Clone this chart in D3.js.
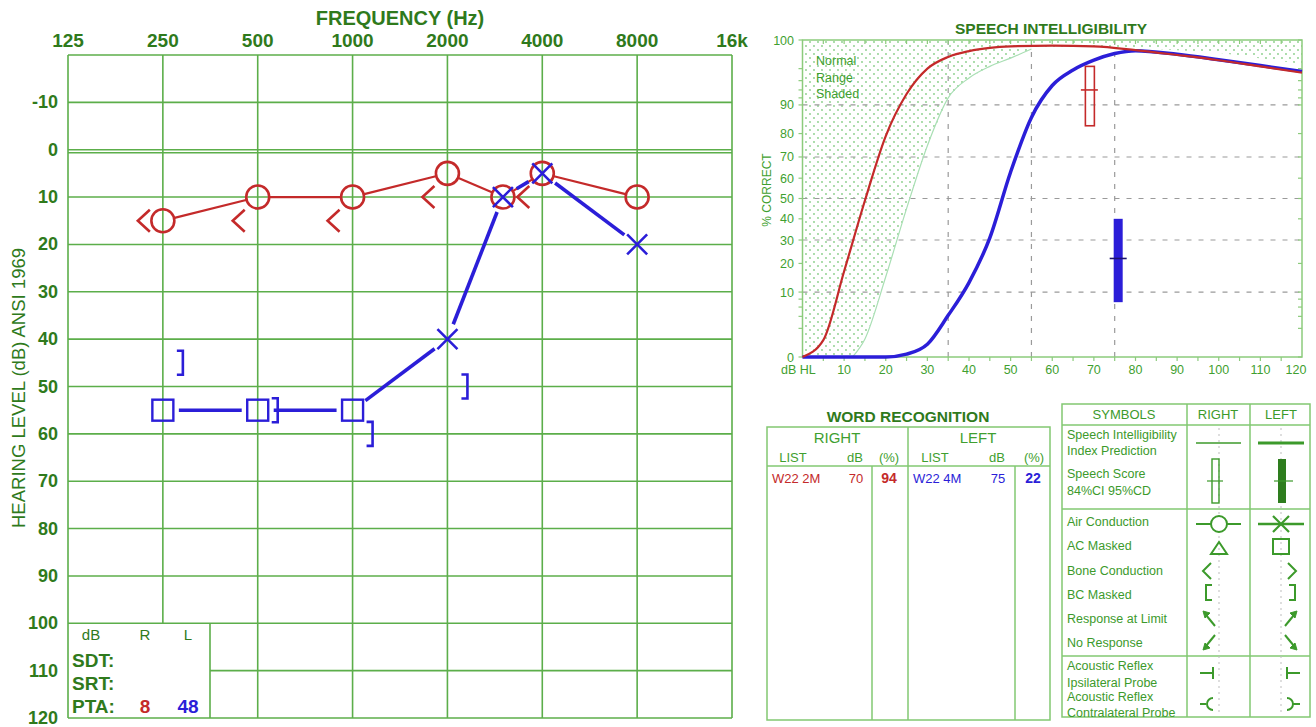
<!DOCTYPE html>
<html lang="en">
<head>
<meta charset="UTF-8">
<title>Audiogram</title>
<script src="https://d3js.org/d3.v7.min.js"></script>
<style>
  body { margin: 0; background: #fff; }
  svg text { font-family: "Liberation Sans", Arial, sans-serif; }
</style>
</head>
<body>
<svg id="chart" width="1316" height="727"></svg>
<script>
// ---------- data ----------
const freqs = [125, 250, 500, 1000, 2000, 4000, 8000, 16000];
const freqLabels = ["125", "250", "500", "1000", "2000", "4000", "8000", "16k"];
const dbTicks = [-10, 0, 10, 20, 30, 40, 50, 60, 70, 80, 90, 100, 110, 120];

// right ear air conduction (circles)
const rightAC = [[250, 15], [500, 10], [1000, 10], [2000, 5], [3000, 10], [4000, 5], [8000, 10]];
// right ear bone conduction (<)
const rightBC = [[250, 15], [500, 15], [1000, 15], [2000, 10], [4000, 10]];
// left ear masked air conduction (squares)
const leftACMasked = [[250, 55], [500, 55], [1000, 55]];
// left ear air conduction (X)
const leftAC = [[2000, 40], [3000, 10], [4000, 5], [8000, 20]];
// left ear masked bone conduction (])
const leftBCMasked = [[250, 45], [500, 55], [1000, 60], [2000, 50]];

const ptaRight = "8", ptaLeft = "48";

// speech intelligibility curves: [dB HL, % correct]
const rightCurve = [[0, 0], [5, 0.7], [10, 17], [15, 49], [20, 79], [25, 93], [30, 98], [35, 99.3], [40, 99.7],
  [45, 99.85], [50, 99.9], [60, 99.92], [70, 99.9], [80, 99.75], [90, 99.45], [100, 99.0], [110, 98.3], [120, 97.4]];
const leftCurve = [[0, 0], [20, 0], [25, 0.02], [30, 0.4], [35, 4.2], [40, 13], [45, 31], [50, 63], [55, 86],
  [60, 95], [65, 97.8], [70, 99], [75, 99.55], [80, 99.72], [90, 99.5], [100, 99.05], [110, 98.4], [120, 97.6]];
const normalCurve = [[12, 0], [15, 0.8], [20, 15], [25, 45], [30, 75], [35, 92], [40, 96.5], [45, 98.3], [50, 99.2], [55, 99.8]];
const normalTop = [[55, 99.8], [80, 99.85], [100, 99.6], [120, 98.6]];
const siiXTicks = [10, 20, 30, 40, 50, 60, 70, 80, 90, 100, 110, 120];
const siiYTicks = [0, 10, 20, 30, 40, 50, 60, 70, 80, 90, 100];
const siiMinor = [2, 4, 6, 8, 92, 94, 96, 98];
const siiGridY = [10, 30, 50, 70, 90];
const siiGridX = [35, 55, 75];

// speech scores: dB, score, CI low, CI high
const scoreRight = { db: 70, pct: 94, lo: 83, hi: 98.3 };
const scoreLeft = { db: 75, pct: 22, lo: 7.2, hi: 40 };

// word recognition
const wrRight = { list: "W22 2M", db: "70", pct: "94" };
const wrLeft = { list: "W22 4M", db: "75", pct: "22" };

const symbolRows = [
  ["Speech Intelligibility", "Index Prediction"], ["Speech Score", "84%CI 95%CD"],
  ["Air Conduction"], ["AC Masked"], ["Bone Conduction"], ["BC Masked"],
  ["Response at Limit"], ["No Response"],
  ["Acoustic Reflex", "Ipsilateral Probe"], ["Acoustic Reflex", "Contralateral Probe"]
];

// ---------- colours ----------
const darkGreen = "#2f7a1c", grid = "#5cae4a", lightGreen = "#3f9f30", tableLine = "#82c872";
const red = "#c42a2a", blue = "#2b1ed8";

const svg = d3.select("#chart");

// ================= AUDIOGRAM =================
const x = d3.scaleLog().base(2).domain([125, 16000]).range([68, 732]);
const y = d3.scaleLinear().domain([-20, 120]).range([55, 718]);

const ag = svg.append("g");

// horizontal grid
dbTicks.concat([-20]).forEach(function (d) {
  let x0 = 68;
  if (d === 110) x0 = 210;
  ag.append("line").attr("x1", x0).attr("x2", 732).attr("y1", y(d)).attr("y2", y(d))
    .attr("stroke", grid).attr("stroke-width", 1.6);
});
ag.append("line").attr("x1", 68).attr("x2", 732).attr("y1", y(0) + 3).attr("y2", y(0) + 3)
  .attr("stroke", grid).attr("stroke-width", 1.6);

// vertical grid
freqs.forEach(function (f) {
  const y1 = (f === 250) ? y(100) : y(120);
  ag.append("line").attr("x1", x(f)).attr("x2", x(f)).attr("y1", y(-20)).attr("y2", y1)
    .attr("stroke", grid).attr("stroke-width", 1.6);
});
// PTA box divider
ag.append("line").attr("x1", 210).attr("x2", 210).attr("y1", y(100)).attr("y2", y(120))
  .attr("stroke", grid).attr("stroke-width", 1.6);

// frequency labels
ag.selectAll(".flab").data(freqs).enter().append("text")
  .attr("x", d => x(d)).attr("y", 47).attr("text-anchor", "middle")
  .attr("font-size", 19).attr("font-weight", "bold").attr("fill", darkGreen)
  .text((d, i) => freqLabels[i]);
ag.append("text").attr("x", 400).attr("y", 25).attr("text-anchor", "middle")
  .attr("font-size", 20).attr("font-weight", "bold").attr("fill", darkGreen).text("FREQUENCY (Hz)");

// dB labels
ag.selectAll(".dlab").data(dbTicks).enter().append("text")
  .attr("x", 58).attr("y", d => y(d) + 6).attr("text-anchor", "end")
  .attr("font-size", 18).attr("font-weight", "bold").attr("fill", darkGreen).text(d => d);
ag.append("text").attr("transform", "translate(25,388) rotate(-90)").attr("text-anchor", "middle")
  .attr("font-size", 18.5).attr("fill", darkGreen).text("HEARING LEVEL (dB) ANSI 1969");

// connecting segments with gaps near markers
function segs(points, gap) {
  const out = [];
  for (let i = 0; i < points.length - 1; i++) {
    const ax = x(points[i][0]), ay = y(points[i][1]);
    const bx = x(points[i + 1][0]), by = y(points[i + 1][1]);
    const len = Math.hypot(bx - ax, by - ay);
    const ux = (bx - ax) / len, uy = (by - ay) / len;
    out.push([ax + ux * gap, ay + uy * gap, bx - ux * gap, by - uy * gap]);
  }
  return out;
}
function drawSegs(points, gap, color, width) {
  ag.append("g").selectAll("line").data(segs(points, gap)).enter().append("line")
    .attr("x1", d => d[0]).attr("y1", d => d[1]).attr("x2", d => d[2]).attr("y2", d => d[3])
    .attr("stroke", color).attr("stroke-width", width);
}
drawSegs(rightAC, 12, red, 2.2);
drawSegs(leftACMasked.concat(leftAC), 16, blue, 3.6);

// right AC circles
ag.append("g").selectAll("circle").data(rightAC).enter().append("circle")
  .attr("cx", d => x(d[0])).attr("cy", d => y(d[1])).attr("r", 11.5)
  .attr("fill", "none").attr("stroke", red).attr("stroke-width", 2.6);

// right BC <
ag.append("g").selectAll("path").data(rightBC).enter().append("path")
  .attr("d", d => {
    const cx = x(d[0]), cy = y(d[1]);
    return `M${cx - 13},${cy - 11}L${cx - 25},${cy}L${cx - 13},${cy + 11}`;
  })
  .attr("fill", "none").attr("stroke", red).attr("stroke-width", 2.6);

// left masked AC squares
ag.append("g").selectAll("rect").data(leftACMasked).enter().append("rect")
  .attr("x", d => x(d[0]) - 10.5).attr("y", d => y(d[1]) - 10.5).attr("width", 21).attr("height", 21)
  .attr("fill", "none").attr("stroke", blue).attr("stroke-width", 2.4);

// left AC X
ag.append("g").selectAll("path").data(leftAC).enter().append("path")
  .attr("d", d => {
    const cx = x(d[0]), cy = y(d[1]), s = 10;
    return `M${cx - s},${cy - s}L${cx + s},${cy + s}M${cx - s},${cy + s}L${cx + s},${cy - s}`;
  })
  .attr("fill", "none").attr("stroke", blue).attr("stroke-width", 2.6);

// left masked BC ]
ag.append("g").selectAll("path").data(leftBCMasked).enter().append("path")
  .attr("d", d => {
    const cx = x(d[0]), cy = y(d[1]);
    return `M${cx + 14},${cy - 12}L${cx + 20},${cy - 12}L${cx + 20},${cy + 12}L${cx + 14},${cy + 12}`;
  })
  .attr("fill", "none").attr("stroke", blue).attr("stroke-width", 2.6);

// PTA table text
ag.append("text").attr("x", 91).attr("y", 640).attr("text-anchor", "middle").attr("font-size", 15)
  .attr("fill", darkGreen).text("dB");
ag.append("text").attr("x", 145).attr("y", 640).attr("text-anchor", "middle").attr("font-size", 15)
  .attr("fill", darkGreen).text("R");
ag.append("text").attr("x", 188).attr("y", 640).attr("text-anchor", "middle").attr("font-size", 15)
  .attr("fill", darkGreen).text("L");
[["SDT:", 667], ["SRT:", 690], ["PTA:", 713]].forEach(function (r) {
  ag.append("text").attr("x", 72).attr("y", r[1]).attr("font-size", 19).attr("font-weight", "bold")
    .attr("fill", darkGreen).text(r[0]);
});
ag.append("text").attr("x", 145).attr("y", 713).attr("text-anchor", "middle").attr("font-size", 19)
  .attr("font-weight", "bold").attr("fill", red).text(ptaRight);
ag.append("text").attr("x", 188).attr("y", 713).attr("text-anchor", "middle").attr("font-size", 19)
  .attr("font-weight", "bold").attr("fill", blue).text(ptaLeft);

// ================= SPEECH INTELLIGIBILITY =================
const sx = d3.scaleLinear().domain([0, 120]).range([802.5, 1302]);
const sArc = d3.scaleLinear().domain([0, Math.PI / 2]).range([357, 40]);
const sy = p => sArc(Math.asin(Math.sqrt(p / 100)));

const sg = svg.append("g");
const defs = svg.append("defs");
const pat = defs.append("pattern").attr("id", "dots").attr("patternUnits", "userSpaceOnUse")
  .attr("width", 8).attr("height", 8);
pat.append("circle").attr("cx", 2).attr("cy", 2).attr("r", 0.9).attr("fill", "#86cc86");
pat.append("circle").attr("cx", 6).attr("cy", 6).attr("r", 0.9).attr("fill", "#86cc86");

// normal range region
const regionPts = [[0, 0], [0, 100], [120, 100]].concat(normalTop.slice().reverse()).concat(normalCurve.slice().reverse());
sg.append("path")
  .attr("d", d3.line().x(d => sx(d[0])).y(d => sy(d[1]))(regionPts) + "Z")
  .attr("fill", "url(#dots)").attr("stroke", "none");

// dashed grid
sg.selectAll(".gy").data(siiGridY).enter().append("line")
  .attr("x1", sx(0)).attr("x2", sx(120)).attr("y1", d => sy(d)).attr("y2", d => sy(d))
  .attr("stroke", "#9a9a9a").attr("stroke-width", 1.2).attr("stroke-dasharray", "5,7");
sg.selectAll(".gx").data(siiGridX).enter().append("line")
  .attr("x1", d => sx(d)).attr("x2", d => sx(d)).attr("y1", sy(0)).attr("y2", sy(100))
  .attr("stroke", "#9a9a9a").attr("stroke-width", 1.2).attr("stroke-dasharray", "5,7");

// frame
sg.append("rect").attr("x", sx(0)).attr("y", sy(100)).attr("width", sx(120) - sx(0)).attr("height", sy(0) - sy(100))
  .attr("fill", "none").attr("stroke", "#8ccb7c").attr("stroke-width", 1.5);

// ticks
const tick5 = d3.range(5, 120, 5);
sg.selectAll(".tt").data(tick5).enter().append("line")
  .attr("x1", d => sx(d)).attr("x2", d => sx(d)).attr("y1", sy(100)).attr("y2", sy(100) + 4)
  .attr("stroke", "#8ccb7c").attr("stroke-width", 1.2);
sg.selectAll(".tb").data(tick5).enter().append("line")
  .attr("x1", d => sx(d)).attr("x2", d => sx(d)).attr("y1", sy(0)).attr("y2", sy(0) + 4)
  .attr("stroke", "#8ccb7c").attr("stroke-width", 1.2);
sg.selectAll(".tl").data(siiYTicks.concat(siiMinor)).enter().append("line")
  .attr("x1", sx(0) - 4).attr("x2", sx(0)).attr("y1", d => sy(d)).attr("y2", d => sy(d))
  .attr("stroke", "#8ccb7c").attr("stroke-width", 1.2);
sg.selectAll(".tr").data(siiYTicks.concat(siiMinor)).enter().append("line")
  .attr("x1", sx(120) - 4).attr("x2", sx(120)).attr("y1", d => sy(d)).attr("y2", d => sy(d))
  .attr("stroke", "#8ccb7c").attr("stroke-width", 1.2);

// normal curve
sg.append("path").attr("d", d3.line().x(d => sx(d[0])).y(d => sy(d[1])).curve(d3.curveMonotoneX)(normalCurve))
  .attr("fill", "none").attr("stroke", "#a9dfb4").attr("stroke-width", 1.2);
// ear curves
sg.append("path").attr("d", d3.line().x(d => sx(d[0])).y(d => sy(d[1])).curve(d3.curveMonotoneX)(leftCurve))
  .attr("fill", "none").attr("stroke", blue).attr("stroke-width", 3.5);
sg.append("path").attr("d", d3.line().x(d => sx(d[0])).y(d => sy(d[1])).curve(d3.curveMonotoneX)(rightCurve))
  .attr("fill", "none").attr("stroke", red).attr("stroke-width", 2.2);

// speech scores
sg.append("rect").attr("x", sx(scoreRight.db) - 8.5).attr("y", sy(scoreRight.hi)).attr("width", 9)
  .attr("height", sy(scoreRight.lo) - sy(scoreRight.hi))
  .attr("fill", "none").attr("stroke", red).attr("stroke-width", 1.6);
sg.append("line").attr("x1", sx(scoreRight.db) - 13).attr("x2", sx(scoreRight.db) + 4)
  .attr("y1", sy(scoreRight.pct)).attr("y2", sy(scoreRight.pct)).attr("stroke", red).attr("stroke-width", 1.6);
sg.append("rect").attr("x", sx(scoreLeft.db) - 1).attr("y", sy(scoreLeft.hi)).attr("width", 9)
  .attr("height", sy(scoreLeft.lo) - sy(scoreLeft.hi)).attr("fill", blue);
sg.append("line").attr("x1", sx(scoreLeft.db) - 5).attr("x2", sx(scoreLeft.db) + 12)
  .attr("y1", sy(scoreLeft.pct)).attr("y2", sy(scoreLeft.pct)).attr("stroke", "#1a1070").attr("stroke-width", 1.6);

// labels
sg.selectAll(".sxl").data(siiXTicks).enter().append("text")
  .attr("x", d => d === 120 ? sx(d) - 6 : sx(d)).attr("y", 374).attr("text-anchor", "middle")
  .attr("font-size", 12.5).attr("fill", lightGreen).text(d => d);
sg.append("text").attr("x", 781).attr("y", 374).attr("font-size", 12.5).attr("fill", lightGreen).text("dB HL");
sg.selectAll(".syl").data(siiYTicks).enter().append("text")
  .attr("x", 794).attr("y", d => sy(d) + 4.5).attr("text-anchor", "end")
  .attr("font-size", 12.5).attr("fill", lightGreen).text(d => d);
sg.append("text").attr("transform", "translate(771,190) rotate(-90)").attr("text-anchor", "middle")
  .attr("font-size", 12).attr("fill", lightGreen).text("% CORRECT");
sg.append("text").attr("x", 1051).attr("y", 34).attr("text-anchor", "middle").attr("font-size", 15.5)
  .attr("font-weight", "bold").attr("fill", darkGreen).text("SPEECH INTELLIGIBILITY");
[["Normal", 65], ["Range", 82], ["Shaded", 98]].forEach(function (t) {
  sg.append("text").attr("x", 816).attr("y", t[1]).attr("font-size", 12.5).attr("fill", lightGreen).text(t[0]);
});

// ================= WORD RECOGNITION =================
const wg = svg.append("g");
wg.append("text").attr("x", 908).attr("y", 422).attr("text-anchor", "middle").attr("font-size", 15.5)
  .attr("font-weight", "bold").attr("fill", darkGreen).text("WORD RECOGNITION");
wg.append("rect").attr("x", 767).attr("y", 427).attr("width", 283).attr("height", 293)
  .attr("fill", "none").attr("stroke", tableLine).attr("stroke-width", 1.5);
wg.append("line").attr("x1", 767).attr("x2", 1050).attr("y1", 466).attr("y2", 466).attr("stroke", tableLine).attr("stroke-width", 1.5);
wg.append("line").attr("x1", 908).attr("x2", 908).attr("y1", 427).attr("y2", 720).attr("stroke", tableLine).attr("stroke-width", 1.5);
[872, 1015].forEach(function (vx) {
  wg.append("line").attr("x1", vx).attr("x2", vx).attr("y1", 466).attr("y2", 720).attr("stroke", tableLine).attr("stroke-width", 1.5);
});
function wtext(tx, ty, s, opts) {
  const t = wg.append("text").attr("x", tx).attr("y", ty).attr("font-size", opts.size || 13)
    .attr("text-anchor", opts.anchor || "middle").attr("fill", opts.color || lightGreen).text(s);
  if (opts.bold) t.attr("font-weight", "bold");
}
wtext(837, 443, "RIGHT", { size: 15 });
wtext(978, 443, "LEFT", { size: 15 });
wtext(793, 462, "LIST", {}); wtext(855, 462, "dB", {}); wtext(889, 462, "(%)", {});
wtext(935, 462, "LIST", {}); wtext(997, 462, "dB", {}); wtext(1034, 462, "(%)", {});
wtext(772, 483, wrRight.list, { anchor: "start", color: red });
wtext(856, 483, wrRight.db, { color: red });
wtext(889, 483, wrRight.pct, { color: red, bold: true, size: 14 });
wtext(913, 483, wrLeft.list, { anchor: "start", color: blue });
wtext(998, 483, wrLeft.db, { color: blue });
wtext(1033, 483, wrLeft.pct, { color: blue, bold: true, size: 14 });

// ================= SYMBOLS =================
const yg = svg.append("g");
const sym = "#3c9a2b";
yg.append("rect").attr("x", 1062).attr("y", 404).attr("width", 248).attr("height", 313)
  .attr("fill", "none").attr("stroke", tableLine).attr("stroke-width", 1.5);
[425, 509, 656].forEach(function (hy) {
  yg.append("line").attr("x1", 1062).attr("x2", 1310).attr("y1", hy).attr("y2", hy).attr("stroke", tableLine).attr("stroke-width", 1.5);
});
[1187, 1250].forEach(function (vx) {
  yg.append("line").attr("x1", vx).attr("x2", vx).attr("y1", 404).attr("y2", 717).attr("stroke", tableLine).attr("stroke-width", 1.5);
});
[1219, 1281].forEach(function (vx) {
  yg.append("line").attr("x1", vx).attr("x2", vx).attr("y1", 428).attr("y2", 715)
    .attr("stroke", "#bdbdbd").attr("stroke-width", 1).attr("stroke-dasharray", "2,4");
});
yg.append("text").attr("x", 1124).attr("y", 419).attr("text-anchor", "middle").attr("font-size", 13).attr("fill", sym).text("SYMBOLS");
yg.append("text").attr("x", 1218).attr("y", 419).attr("text-anchor", "middle").attr("font-size", 13).attr("fill", sym).text("RIGHT");
yg.append("text").attr("x", 1281).attr("y", 419).attr("text-anchor", "middle").attr("font-size", 13).attr("fill", sym).text("LEFT");

const rowBase = [[439, 455], [478, 495], [526], [550], [575], [599], [623], [647], [670, 687], [701, 717]];
symbolRows.forEach(function (lines, i) {
  lines.forEach(function (s, j) {
    yg.append("text").attr("x", 1067).attr("y", rowBase[i][j]).attr("font-size", 12.5)
      .attr("fill", sym).text(s);
  });
});

function sp(d, w, fill) {
  return yg.append("path").attr("d", d).attr("fill", fill || "none").attr("stroke", sym).attr("stroke-width", w || 2);
}
// SII prediction
sp("M1196,443L1241,443", 1.6);
sp("M1258,443L1304,443", 3.2);
// speech score
yg.append("rect").attr("x", 1212).attr("y", 459).attr("width", 7).attr("height", 44).attr("fill", "none").attr("stroke", sym).attr("stroke-width", 1.4);
sp("M1207,481L1223,481", 1.2);
yg.append("rect").attr("x", 1278).attr("y", 459).attr("width", 8).attr("height", 44).attr("fill", "#2e7d1e");
sp("M1274,481L1293,481", 1.2);
// air conduction
sp("M1196,524L1241,524", 2);
yg.append("circle").attr("cx", 1219).attr("cy", 524).attr("r", 8).attr("fill", "#fff").attr("stroke", sym).attr("stroke-width", 2);
sp("M1258,524L1304,524", 2.6);
sp("M1273,516L1289,532M1273,532L1289,516", 2.2);
// AC masked
sp("M1211,554L1227,554L1219,542Z", 2);
yg.append("rect").attr("x", 1273).attr("y", 539).attr("width", 16).attr("height", 15).attr("fill", "none").attr("stroke", sym).attr("stroke-width", 2);
// bone conduction
sp("M1211,563L1203,571L1211,579", 2);
sp("M1288,563L1296,571L1288,579", 2);
// BC masked
sp("M1212,585L1206,585L1206,600L1212,600", 2);
sp("M1289,585L1295,585L1295,600L1289,600", 2);
// response at limit
sp("M1215,626L1206,615", 2); sp("M1203,611L1210,613L1205,618Z", 1, sym);
sp("M1285,626L1294,615", 2); sp("M1297,611L1290,613L1295,618Z", 1, sym);
// no response
sp("M1215,635L1206,646", 2); sp("M1203,650L1205,643L1210,648Z", 1, sym);
sp("M1285,635L1294,646", 2); sp("M1297,650L1290,648L1295,643Z", 1, sym);
// acoustic reflex ipsi
sp("M1200,673L1213,673M1213,667L1213,679", 2);
sp("M1287,667L1287,679M1287,673L1300,673", 2);
// acoustic reflex contra
sp("M1200,704L1206,704M1213,698A6,6 0 0 0 1213,710", 2);
sp("M1287,698A6,6 0 0 1 1287,710M1293,704L1300,704", 2);
</script>
</body>
</html>
